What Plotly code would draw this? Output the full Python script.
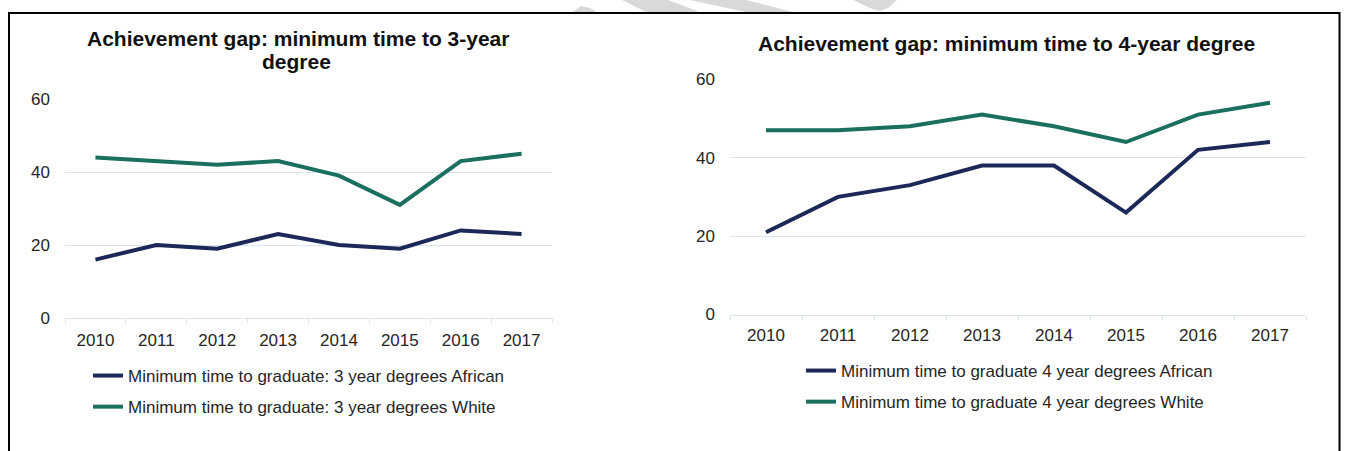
import plotly.graph_objects as go

# Graduation years shown on both panels
years = ["2010", "2011", "2012", "2013", "2014", "2015", "2016", "2017"]

# Share (%) completing within minimum time: 3-year degrees
three_year_african = [16, 20, 19, 23, 20, 19, 24, 23]
three_year_white = [44, 43, 42, 43, 39, 31, 43, 45]

# Share (%) completing within minimum time: 4-year degrees
four_year_african = [21, 30, 33, 38, 38, 26, 42, 44]
four_year_white = [47, 47, 48, 51, 48, 44, 51, 54]

y_ticks = [0, 20, 40, 60]

W, H = 1347, 451
NAVY = "#1b2858"
TEAL = "#1a6f5e"
GRID = "#d9e3f2"
TEXT = "#262626"
FONT = "Liberation Sans, Arial, sans-serif"


def px_x(v):
    return v / W


def px_y(v):
    return 1 - v / H


fig = go.Figure()

fig.add_trace(go.Scatter(
    x=years, y=three_year_african, mode="lines",
    name="Minimum time to graduate: 3 year degrees African",
    line=dict(color=NAVY, width=4), xaxis="x", yaxis="y",
    legend="legend", legendgroup="a3"))
fig.add_trace(go.Scatter(
    x=years, y=three_year_white, mode="lines",
    name="Minimum time to graduate: 3 year degrees White",
    line=dict(color=TEAL, width=4), xaxis="x", yaxis="y",
    legend="legend", legendgroup="w3"))
fig.add_trace(go.Scatter(
    x=years, y=four_year_african, mode="lines",
    name="Minimum time to graduate 4 year degrees African",
    line=dict(color=NAVY, width=4), xaxis="x2", yaxis="y2",
    legend="legend2", legendgroup="a4"))
fig.add_trace(go.Scatter(
    x=years, y=four_year_white, mode="lines",
    name="Minimum time to graduate 4 year degrees White",
    line=dict(color=TEAL, width=4), xaxis="x2", yaxis="y2",
    legend="legend2", legendgroup="w4"))

xaxis_common = dict(
    type="category", range=[-0.5, 7.5], showgrid=False, zeroline=False,
    showline=True, linecolor=GRID, linewidth=1,
    ticks="outside", tickson="boundaries", ticklen=4, tickcolor=GRID,
    tickfont=dict(size=17, color=TEXT, family=FONT), fixedrange=True,
    automargin=False)
yaxis_common = dict(
    range=[0, 60], tickvals=y_ticks, showgrid=True, gridcolor=GRID,
    gridwidth=1, zeroline=False, showline=False, ticks="",
    ticklabelstandoff=14,
    tickfont=dict(size=17, color=TEXT, family=FONT), fixedrange=True,
    automargin=False)

legend_common = dict(
    orientation="v", xanchor="left", yanchor="top",
    bgcolor="rgba(0,0,0,0)", borderwidth=0, tracegroupgap=6,
    font=dict(size=17, color=TEXT, family=FONT), itemclick=False)

fig.update_layout(
    width=W, height=H,
    margin=dict(l=0, r=0, t=0, b=0, pad=0, autoexpand=False),
    paper_bgcolor="white", plot_bgcolor="white",
    font=dict(family=FONT, color=TEXT),
    showlegend=True,
    xaxis=dict(domain=[px_x(65), px_x(552)], anchor="y",
               ticklabelstandoff=7, **xaxis_common),
    yaxis=dict(domain=[px_y(318), px_y(99)], anchor="x", **yaxis_common),
    xaxis2=dict(domain=[px_x(730), px_x(1306)], anchor="y2",
                ticklabelstandoff=5, **xaxis_common),
    yaxis2=dict(domain=[px_y(314.5), px_y(79.3)], anchor="x2", **yaxis_common),
    legend=dict(x=px_x(88), y=px_y(358), **legend_common),
    legend2=dict(x=px_x(801), y=px_y(353), **legend_common),
)

title_font = dict(size=21, color="#111111", family=FONT, weight="bold")
titles = [
    ("Achievement gap: minimum time to 3-year", 298, 39),
    ("degree", 296, 62),
    ("Achievement gap: minimum time to 4-year degree", 1006, 44),
]
for text, cx, cy in titles:
    fig.add_annotation(text=text, x=px_x(cx), y=px_y(cy), xref="paper",
                       yref="paper", xanchor="center", yanchor="middle",
                       showarrow=False, font=title_font)

# Frame around the figure
fig.add_shape(type="rect", xref="paper", yref="paper",
              x0=px_x(9), x1=px_x(1339.5), y0=px_y(470), y1=px_y(13),
              line=dict(color="black", width=2), fillcolor="rgba(0,0,0,0)")

# Faint watermark strokes along the top edge
watermark = [
    [(573, 12), (581, 6), (590, 8), (597, 12)],
    [(622, 0), (668, 0), (700, 12), (646, 12)],
    [(690, 0), (746, 0), (793, 12), (745, 12)],
    [(853, 0), (897, 0), (888, 8), (879, 11), (870, 8)],
]
for poly in watermark:
    path = "M " + " L ".join(f"{px_x(a):.5f},{px_y(b):.5f}" for a, b in poly) + " Z"
    fig.add_shape(type="path", path=path, xref="paper", yref="paper",
                  fillcolor="#d9d9d9", line=dict(width=0), layer="below")

fig.write_html("out.html")
